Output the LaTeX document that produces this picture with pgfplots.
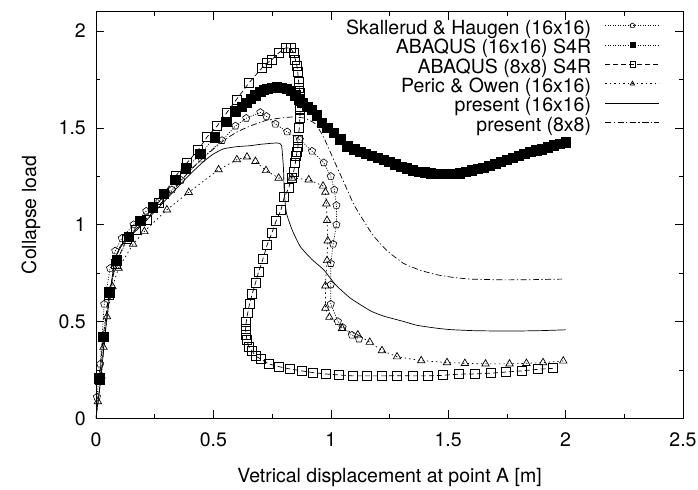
\documentclass[border=0pt]{standalone}
\usepackage{fontspec}
\setmainfont{TeX Gyre Heros}
\usepackage{pgfplots}
\pgfplotsset{compat=1.18}
\usetikzlibrary{plotmarks}
\begin{document}
\fontsize{19.5bp}{23bp}\selectfont
\begin{tikzpicture}
\path[use as bounding box] (-96bp,-71.7bp) rectangle (602bp,418.3bp);
\begin{axis}[
  scale only axis, width=587bp, height=406.6bp,
  at={(0,0)}, anchor=south west,
  xmin=0, xmax=2.5, ymin=0, ymax=2.1,
  xtick={0,0.5,1,1.5,2,2.5}, ytick={0,0.5,1,1.5,2},
  minor x tick num=1, minor y tick num=1,
  major tick length=8bp, minor tick length=4bp,
  tick align=inside,
  tick style={black, line width=0.6bp},
  axis line style={line width=0.8bp},
  /pgf/number format/assume math mode=true,
  xticklabel style={anchor=base, inner sep=0pt, yshift=-28.4bp},
  yticklabel style={anchor=east, inner sep=0pt, xshift=-10bp},
  xlabel={Vetrical displacement at point A [m]},
  ylabel={Collapse load},
  xlabel style={at={(axis description cs:0.5,-0.1591)}, anchor=base},
  ylabel style={at={(axis description cs:-0.1022,0.5)}, anchor=base},
  legend plot pos=right,
  legend cell align=right,
  legend style={draw=none, fill=none, at={(rel axis cs:1,1)}, anchor=north east,
    xshift=-23bp, yshift=-8bp, inner sep=0pt, row sep=0pt, column sep=14bp,
    nodes={inner sep=0pt, text height=14.5bp, text depth=4.9bp}},
  legend image code/.code={
    \draw[mark repeat=2, mark phase=2, #1, mark size=2.6bp] plot coordinates {(0bp,4bp) (27bp,4bp) (54bp,4bp)};
  },
  every axis plot/.append style={line width=0.7bp, black},
]
% Skallerud & Haugen (16x16)
\addplot[dash pattern=on 1bp off 1.5bp, mark=pentagon, mark size=3.8bp, mark options={solid, line width=0.6bp}] coordinates {
(0.004,0.11) (0.018,0.28) (0.035,0.59) (0.06,0.775) (0.082,0.865) (0.11,0.93)
(0.16,1.0) (0.214,1.07) (0.27,1.12) (0.324,1.18) (0.362,1.23) (0.45,1.34) (0.537,1.435)
(0.594,1.51) (0.64,1.55) (0.70,1.58) (0.726,1.56) (0.764,1.52) (0.814,1.48) (0.868,1.44)
(0.92,1.38) (0.97,1.32) (1.0,1.25) (1.015,1.18) (1.024,1.10) (1.024,1.0) (1.01,0.90)
(1.0,0.80) (1.0,0.69) (1.0,0.59) (1.03,0.50) (1.05,0.47) (1.09,0.43) (1.12,0.41)
};
\addlegendentry{Skallerud \& Haugen (16x16)}
% ABAQUS (16x16) S4R
\addplot[dash pattern=on 1bp off 1.5bp, mark=square*, mark size=4.7bp, mark options={solid}] coordinates {
(0.015,0.207) (0.031,0.42) (0.057,0.65) (0.089,0.815) (0.139,0.936) (0.189,1.02)
(0.243,1.09) (0.288,1.16) (0.338,1.23) (0.383,1.29) (0.444,1.365) (0.505,1.45)
(0.555,1.53) (0.594,1.585) (0.62,1.61) (0.643,1.63) (0.66,1.65) (0.679,1.667)
(0.70,1.685) (0.715,1.695) (0.729,1.70) (0.75,1.707) (0.771,1.71) (0.79,1.708)
(0.814,1.70) (0.83,1.69) (0.849,1.667) (0.865,1.648) (0.878,1.63) (0.90,1.61)
(0.92,1.594) (0.94,1.565) (0.963,1.525) (0.985,1.50) (1.012,1.474) (1.04,1.44)
(1.07,1.404) (1.1,1.39) (1.125,1.377) (1.15,1.365) (1.175,1.355) (1.2,1.345)
(1.225,1.336) (1.25,1.325) (1.275,1.312) (1.3,1.30) (1.325,1.29) (1.35,1.28)
(1.375,1.274) (1.4,1.27) (1.425,1.265) (1.45,1.262) (1.475,1.261) (1.5,1.262)
(1.525,1.263) (1.55,1.266) (1.575,1.272) (1.6,1.28) (1.625,1.287) (1.65,1.295)
(1.675,1.305) (1.7,1.315) (1.725,1.325) (1.75,1.335) (1.775,1.345) (1.8,1.355)
(1.825,1.365) (1.85,1.375) (1.875,1.383) (1.9,1.39) (1.925,1.40) (1.95,1.41)
(1.975,1.418) (2.0,1.425)
};
\addlegendentry{ABAQUS (16x16) S4R}
% ABAQUS (8x8) S4R
\addplot[dash pattern=on 5bp off 3bp, mark=square, mark size=4.5bp, mark options={solid, line width=0.7bp}] coordinates {
(0.015,0.20) (0.03,0.42) (0.055,0.64) (0.085,0.80) (0.13,0.925) (0.17,0.975)
(0.217,1.025) (0.267,1.115) (0.338,1.25) (0.388,1.32) (0.434,1.384) (0.473,1.453)
(0.516,1.51) (0.558,1.58) (0.598,1.646) (0.65,1.73) (0.707,1.81) (0.729,1.835)
(0.75,1.853) (0.778,1.887) (0.807,1.913) (0.828,1.913) (0.842,1.887) (0.849,1.853)
(0.856,1.818) (0.859,1.79) (0.863,1.74) (0.866,1.706) (0.87,1.68) (0.87,1.64)
(0.87,1.61) (0.87,1.594) (0.868,1.55) (0.866,1.50) (0.86,1.44) (0.86,1.404)
(0.856,1.378) (0.853,1.353) (0.849,1.318) (0.842,1.275) (0.832,1.241) (0.821,1.19)
(0.802,1.143) (0.788,1.077) (0.768,1.022) (0.75,0.96) (0.729,0.896) (0.711,0.822)
(0.693,0.758) (0.679,0.698) (0.665,0.641) (0.654,0.591) (0.646,0.543) (0.64,0.50)
(0.637,0.46) (0.64,0.43) (0.643,0.405) (0.65,0.37) (0.665,0.348) (0.679,0.322)
(0.703,0.305) (0.735,0.281) (0.778,0.267) (0.825,0.255) (0.875,0.245) (0.925,0.236)
(0.977,0.229) (1.034,0.224) (1.093,0.219) (1.152,0.219) (1.218,0.219) (1.282,0.22)
(1.349,0.219) (1.415,0.219) (1.478,0.222) (1.545,0.228) (1.612,0.229) (1.68,0.233)
(1.747,0.239) (1.815,0.245) (1.883,0.253) (1.946,0.258)
};
\addlegendentry{ABAQUS (8x8) S4R}
% Peric & Owen (16x16)
\addplot[dash pattern=on 1.5bp off 3bp, mark=triangle, mark size=4.3bp, mark options={solid, line width=0.7bp}] coordinates {
(0.008,0.086) (0.023,0.219) (0.032,0.367) (0.047,0.525) (0.07,0.68) (0.096,0.776)
(0.158,0.90) (0.206,0.965) (0.302,1.077) (0.395,1.167) (0.522,1.284) (0.60,1.336)
(0.643,1.35) (0.679,1.327) (0.724,1.28) (0.778,1.241) (0.835,1.241) (0.906,1.232)
(0.967,1.20) (0.977,1.168) (0.981,1.108) (0.984,1.022) (0.987,0.917) (0.984,0.815)
(0.977,0.684) (0.977,0.569) (0.994,0.522) (1.048,0.465) (1.115,0.431) (1.166,0.393)
(1.218,0.35) (1.282,0.318) (1.385,0.298) (1.495,0.288) (1.571,0.284) (1.659,0.281)
(1.761,0.281) (1.833,0.284) (1.904,0.288) (1.99,0.296)
};
\addlegendentry{Peric \& Owen (16x16)}
% present (16x16)
\addplot[solid, no markers, smooth, tension=0.3] coordinates {
(0,0) (0.02,0.2) (0.04,0.45) (0.06,0.65) (0.082,0.827) (0.12,0.91) (0.189,0.99)
(0.26,1.08) (0.331,1.172) (0.4,1.26) (0.459,1.327) (0.5,1.365) (0.544,1.392)
(0.6,1.403) (0.657,1.408) (0.7,1.415) (0.771,1.422) (0.79,1.41) (0.798,1.30)
(0.802,1.163) (0.811,1.06) (0.835,0.974) (0.87,0.887) (0.92,0.82) (0.97,0.767)
(1.02,0.69) (1.084,0.62) (1.169,0.555) (1.225,0.528) (1.31,0.50) (1.368,0.48)
(1.453,0.465) (1.51,0.458) (1.6,0.453) (1.7,0.451) (1.8,0.451) (1.9,0.453) (2.0,0.457)
};
\addlegendentry{present (16x16)}
% present (8x8)
\addplot[dash pattern=on 6bp off 2.5bp on 1.2bp off 2.5bp, no markers, smooth, tension=0.3] coordinates {
(0,0) (0.02,0.2) (0.04,0.45) (0.06,0.65) (0.085,0.84) (0.12,0.92) (0.19,1.0)
(0.26,1.09) (0.33,1.18) (0.40,1.28) (0.444,1.33) (0.48,1.37) (0.55,1.44) (0.6,1.478)
(0.657,1.51) (0.729,1.54) (0.8,1.553) (0.842,1.556) (0.89,1.55) (0.935,1.52)
(0.97,1.45) (1.012,1.336) (1.07,1.18) (1.1,1.10) (1.14,1.02) (1.18,0.945) (1.24,0.865)
(1.31,0.80) (1.38,0.765) (1.453,0.741) (1.52,0.728) (1.595,0.719) (1.737,0.715)
(1.85,0.716) (1.985,0.719)
};
\addlegendentry{present (8x8)}
\end{axis}
\end{tikzpicture}
\end{document}
